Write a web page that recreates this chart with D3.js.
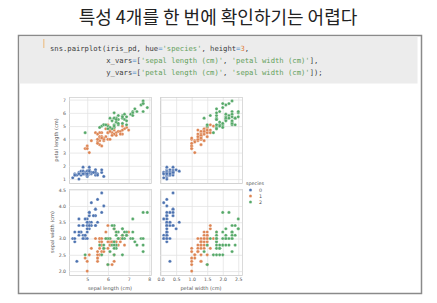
<!DOCTYPE html>
<html>
<head>
<meta charset="utf-8">
<script src="https://cdn.jsdelivr.net/npm/d3@7"></script>
<style>
  body { margin: 0; background: #fff; }
  svg { display: block; }
</style>
</head>
<body>
<svg id="chart" width="437" height="303"></svg>
<script>
// iris data (sklearn), read as plotted
const sepalLength = [5.1,4.9,4.7,4.6,5.0,5.4,4.6,5.0,4.4,4.9,5.4,4.8,4.8,4.3,5.8,5.7,5.4,5.1,5.7,5.1,5.4,5.1,4.6,5.1,4.8,5.0,5.0,5.2,5.2,4.7,4.8,5.4,5.2,5.5,4.9,5.0,5.5,4.9,4.4,5.1,5.0,4.5,4.4,5.0,5.1,4.8,5.1,4.6,5.3,5.0,
  7.0,6.4,6.9,5.5,6.5,5.7,6.3,4.9,6.6,5.2,5.0,5.9,6.0,6.1,5.6,6.7,5.6,5.8,6.2,5.6,5.9,6.1,6.3,6.1,6.4,6.6,6.8,6.7,6.0,5.7,5.5,5.5,5.8,6.0,5.4,6.0,6.7,6.3,5.6,5.5,5.5,6.1,5.8,5.0,5.6,5.7,5.7,6.2,5.1,5.7,
  6.3,5.8,7.1,6.3,6.5,7.6,4.9,7.3,6.7,7.2,6.5,6.4,6.8,5.7,5.8,6.4,6.5,7.7,7.7,6.0,6.9,5.6,7.7,6.3,6.7,7.2,6.2,6.1,6.4,7.2,7.4,7.9,6.4,6.3,6.1,7.7,6.3,6.4,6.0,6.9,6.7,6.9,5.8,6.8,6.7,6.7,6.3,6.5,6.2,5.9]
const sepalWidth = [3.5,3.0,3.2,3.1,3.6,3.9,3.4,3.4,2.9,3.1,3.7,3.4,3.0,3.0,4.0,4.4,3.9,3.5,3.8,3.8,3.4,3.7,3.6,3.3,3.4,3.0,3.4,3.5,3.4,3.2,3.1,3.4,4.1,4.2,3.1,3.2,3.5,3.6,3.0,3.4,3.5,2.3,3.2,3.5,3.8,3.0,3.8,3.2,3.7,3.3,
  3.2,3.2,3.1,2.3,2.8,2.8,3.3,2.4,2.9,2.7,2.0,3.0,2.2,2.9,2.9,3.1,3.0,2.7,2.2,2.5,3.2,2.8,2.5,2.8,2.9,3.0,2.8,3.0,2.9,2.6,2.4,2.4,2.7,2.7,3.0,3.4,3.1,2.3,3.0,2.5,2.6,3.0,2.6,2.3,2.7,3.0,2.9,2.9,2.5,2.8,
  3.3,2.7,3.0,2.9,3.0,3.0,2.5,2.9,2.5,3.6,3.2,2.7,3.0,2.5,2.8,3.2,3.0,3.8,2.6,2.2,3.2,2.8,2.8,2.7,3.3,3.2,2.8,3.0,2.8,3.0,2.8,3.8,2.8,2.8,2.6,3.0,3.4,3.1,3.0,3.1,3.1,3.1,2.7,3.2,3.3,3.0,2.5,3.0,3.4,3.0]
const petalLength = [1.4,1.4,1.3,1.5,1.4,1.7,1.4,1.5,1.4,1.5,1.5,1.6,1.4,1.1,1.2,1.5,1.3,1.4,1.7,1.5,1.7,1.5,1.0,1.7,1.9,1.6,1.6,1.5,1.4,1.6,1.6,1.5,1.5,1.4,1.5,1.2,1.3,1.4,1.3,1.5,1.3,1.3,1.3,1.6,1.9,1.4,1.6,1.4,1.5,1.4,
  4.7,4.5,4.9,4.0,4.6,4.5,4.7,3.3,4.6,3.9,3.5,4.2,4.0,4.7,3.6,4.4,4.5,4.1,4.5,3.9,4.8,4.0,4.9,4.7,4.3,4.4,4.8,5.0,4.5,3.5,3.8,3.7,3.9,5.1,4.5,4.5,4.7,4.4,4.1,4.0,4.4,4.6,4.0,3.3,4.2,4.2,4.2,4.3,3.0,4.1,
  6.0,5.1,5.9,5.6,5.8,6.6,4.5,6.3,5.8,6.1,5.1,5.3,5.5,5.0,5.1,5.3,5.5,6.7,6.9,5.0,5.7,4.9,6.7,4.9,5.7,6.0,4.8,4.9,5.6,5.8,6.1,6.4,5.6,5.1,5.6,6.1,5.6,5.5,4.8,5.4,5.6,5.1,5.1,5.9,5.7,5.2,5.0,5.2,5.4,5.1]
const petalWidth = [0.2,0.2,0.2,0.2,0.2,0.4,0.3,0.2,0.2,0.1,0.2,0.2,0.1,0.1,0.2,0.4,0.4,0.3,0.3,0.3,0.2,0.4,0.2,0.5,0.2,0.2,0.4,0.2,0.2,0.2,0.2,0.4,0.1,0.2,0.2,0.2,0.2,0.1,0.2,0.2,0.3,0.3,0.2,0.6,0.4,0.3,0.2,0.2,0.2,0.2,
  1.4,1.5,1.5,1.3,1.5,1.3,1.6,1.0,1.3,1.4,1.0,1.5,1.0,1.4,1.3,1.4,1.5,1.0,1.5,1.1,1.8,1.3,1.5,1.2,1.3,1.4,1.4,1.7,1.5,1.0,1.1,1.0,1.2,1.6,1.5,1.6,1.5,1.3,1.3,1.3,1.2,1.4,1.2,1.0,1.3,1.2,1.3,1.3,1.1,1.3,
  2.5,1.9,2.1,1.8,2.2,2.1,1.7,1.8,1.8,2.5,2.0,1.9,2.1,2.0,2.4,2.3,1.8,2.2,2.3,1.5,2.3,2.0,2.0,1.8,2.1,1.8,1.8,1.8,2.1,1.6,1.9,2.0,2.2,1.5,1.4,2.3,2.4,1.8,1.8,2.1,2.4,2.3,1.9,2.3,2.5,2.3,1.9,2.0,2.3,1.8]
const species = [0,0,0,0,0,0,0,0,0,0,0,0,0,0,0,0,0,0,0,0,0,0,0,0,0,0,0,0,0,0,0,0,0,0,0,0,0,0,0,0,0,0,0,0,0,0,0,0,0,0,
  1,1,1,1,1,1,1,1,1,1,1,1,1,1,1,1,1,1,1,1,1,1,1,1,1,1,1,1,1,1,1,1,1,1,1,1,1,1,1,1,1,1,1,1,1,1,1,1,1,1,
  2,2,2,2,2,2,2,2,2,2,2,2,2,2,2,2,2,2,2,2,2,2,2,2,2,2,2,2,2,2,2,2,2,2,2,2,2,2,2,2,2,2,2,2,2,2,2,2,2,2]

const speciesLevels = [0, 1, 2]
const speciesColors = ['#4c72b0', '#dd8452', '#55a868']
const sepalLengthTicks = [5, 6, 7, 8]
const petalWidthTicks = [0.0, 0.5, 1.0, 1.5, 2.0, 2.5]
const petalLengthTicks = [1, 2, 3, 4, 5, 6, 7]
const sepalWidthTicks = [2.0, 2.5, 3.0, 3.5, 4.0, 4.5]

const titleText = '특성 4개를 한 번에 확인하기는 어렵다'
const codeLines = [
  [['sns.pairplot(iris_pd, hue', 't'], ['=', 'o'], ["'species'", 's'], [', height', 't'], ['=', 'o'], ['3', 'n'], [',', 't']],
  [['             x_vars', 't'], ['=', 'o'], ['[', 't'], ["'sepal length (cm)'", 's'], [', ', 't'], ["'petal width (cm)'", 's'], ['],', 't']],
  [['             y_vars', 't'], ['=', 'o'], ['[', 't'], ["'petal length (cm)'", 's'], [', ', 't'], ["'sepal width (cm)'", 's'], [']);', 't']]
]
const codeColors = { t: '#3a3a3a', o: '#3b86c6', s: '#62a05a', n: '#e0782f' }

const rows = d3.range(sepalLength.length).map(i => ({
  sl: sepalLength[i], sw: sepalWidth[i], pl: petalLength[i], pw: petalWidth[i], sp: species[i]
}))

const svg = d3.select('#chart')

// slide title
svg.append('text')
  .attr('x', 218).attr('y', 24)
  .attr('text-anchor', 'middle')
  .attr('font-family', '"Noto Sans CJK KR", sans-serif')
  .attr('font-size', 18)
  .attr('fill', '#222')
  .text(titleText)

// notebook cell box
svg.append('rect')
  .attr('x', 18.5).attr('y', 35.5).attr('width', 403).attr('height', 258)
  .attr('fill', '#fff').attr('stroke', '#8a8a8a').attr('stroke-width', 1.5)
svg.append('rect')
  .attr('x', 19.5).attr('y', 36.5).attr('width', 398).attr('height', 47)
  .attr('fill', '#ececec')
svg.append('rect')
  .attr('x', 43).attr('y', 39).attr('width', 1.5).attr('height', 9)
  .attr('fill', '#ecc99e')

const code = svg.append('g')
  .attr('font-family', '"DejaVu Sans Mono", monospace')
  .attr('font-size', 7.2)
codeLines.forEach((line, i) => {
  const t = code.append('text')
    .attr('x', 50).attr('y', 51 + i * 12)
    .attr('xml:space', 'preserve')
    .style('white-space', 'pre')
  line.forEach(seg => {
    t.append('tspan').attr('fill', codeColors[seg[1]]).text(seg[0])
  })
})

// pairplot panels
const colX = [{ key: 'sl', x0: 69, domain: [4.12, 8.08], ticks: sepalLengthTicks, fmt: d3.format('d'), label: 'sepal length (cm)' },
              { key: 'pw', x0: 160, domain: [-0.02, 2.62], ticks: petalWidthTicks, fmt: d3.format('.1f'), label: 'petal width (cm)' }]
const rowY = [{ key: 'pl', y0: 97, domain: [0.705, 7.195], ticks: petalLengthTicks, fmt: d3.format('d'), label: 'petal length (cm)', labelX: 58 },
              { key: 'sw', y0: 189, domain: [1.88, 4.52], ticks: sepalWidthTicks, fmt: d3.format('.1f'), label: 'sepal width (cm)', labelX: 54 }]
const panelW = 82
const panelH = 86
const gridColor = '#e3e3e3'
const labelColor = '#555'
const color = d3.scaleOrdinal().domain(speciesLevels).range(speciesColors)

rowY.forEach((ry, ri) => {
  colX.forEach((cx, ci) => {
    const x = d3.scaleLinear().domain(cx.domain).range([cx.x0, cx.x0 + panelW])
    const y = d3.scaleLinear().domain(ry.domain).range([ry.y0 + panelH, ry.y0])
    const g = svg.append('g')

    const xAxis = g.append('g')
      .attr('transform', `translate(0,${ry.y0 + panelH})`)
      .call(d3.axisBottom(x).tickValues(cx.ticks).tickSize(-panelH).tickPadding(3)
        .tickFormat(ri === 1 ? cx.fmt : ''))
    const yAxis = g.append('g')
      .attr('transform', `translate(${cx.x0},0)`)
      .call(d3.axisLeft(y).tickValues(ry.ticks).tickSize(-panelW).tickPadding(3)
        .tickFormat(ci === 0 ? ry.fmt : ''))
    ;[xAxis, yAxis].forEach(a => {
      a.select('.domain').attr('stroke', '#d0d0d0').attr('stroke-width', 0.8)
      a.selectAll('.tick line').attr('stroke', gridColor).attr('stroke-width', 0.8)
      a.selectAll('.tick text').attr('fill', labelColor).attr('font-size', 4.6)
        .attr('font-family', '"DejaVu Sans", sans-serif')
    })

    g.append('g').selectAll('circle')
      .data(rows)
      .join('circle')
      .attr('cx', d => x(d[cx.key]))
      .attr('cy', d => y(d[ry.key]))
      .attr('r', 1.6)
      .attr('fill', d => color(d.sp))
      .attr('stroke', '#fff')
      .attr('stroke-width', 0.3)

    if (ri === 1) {
      svg.append('text')
        .attr('x', cx.x0 + panelW / 2).attr('y', 290)
        .attr('text-anchor', 'middle')
        .attr('font-family', '"DejaVu Sans", sans-serif')
        .attr('font-size', 5).attr('fill', labelColor)
        .text(cx.label)
    }
    if (ci === 0) {
      svg.append('text')
        .attr('transform', `translate(${ry.labelX},${ry.y0 + panelH / 2}) rotate(-90)`)
        .attr('text-anchor', 'middle')
        .attr('font-family', '"DejaVu Sans", sans-serif')
        .attr('font-size', 5).attr('fill', labelColor)
        .text(ry.label)
    }
  })
})

// legend
const legend = svg.append('g')
  .attr('font-family', '"DejaVu Sans", sans-serif')
  .attr('font-size', 4.8).attr('fill', labelColor)
legend.append('text').attr('x', 246).attr('y', 184.5).text('species')
const legendY = d3.scalePoint().domain(speciesLevels).range([190, 202])
speciesLevels.forEach(s => {
  legend.append('circle')
    .attr('cx', 250.5).attr('cy', legendY(s)).attr('r', 1.6)
    .attr('fill', color(s)).attr('stroke', '#fff').attr('stroke-width', 0.3)
  legend.append('text')
    .attr('x', 259).attr('y', legendY(s) + 1.7).text(s)
})
</script>
</body>
</html>
